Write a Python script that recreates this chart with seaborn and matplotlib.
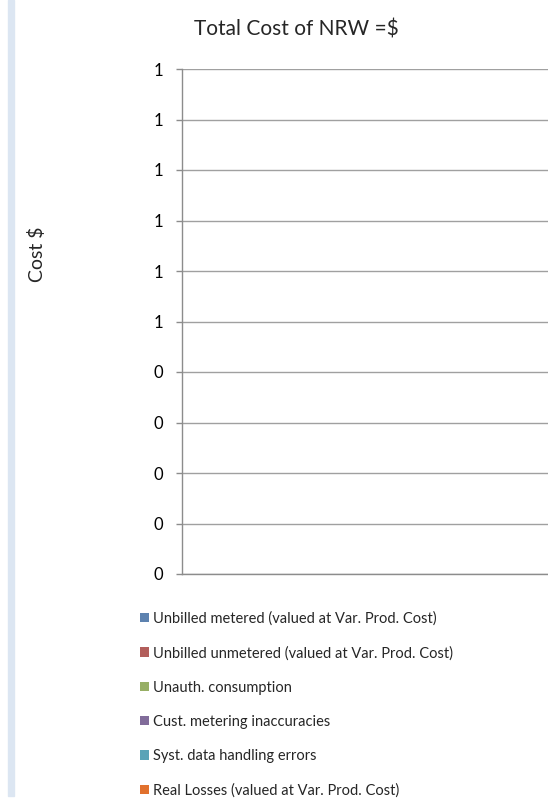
import numpy as np
import pandas as pd
import seaborn as sns
import matplotlib
matplotlib.use('Agg')
from matplotlib import pyplot as plt
from matplotlib.patches import Rectangle
from matplotlib.ticker import FuncFormatter

# components of the NRW cost, all empty (zero) in the reference
series = ['Unbilled metered (valued at Var. Prod. Cost)',
          'Unbilled unmetered (valued at Var. Prod. Cost)',
          'Unauth. consumption',
          'Cust. metering inaccuracies',
          'Syst. data handling errors',
          'Real Losses (valued at Var. Prod. Cost)']
costs = [0, 0, 0, 0, 0, 0]
colors = ['#4F81BD', '#C0504D', '#9BBB59', '#8064A2', '#4BACC6', '#FF6A10']
y_ticks = [0.0, 0.1, 0.2, 0.3, 0.4, 0.5, 0.6, 0.7, 0.8, 0.9, 1.0]

df = pd.DataFrame({'category': [''] * len(series), 'series': series, 'cost': costs})

sns.set_style('white')
plt.rcParams['font.family'] = ['Lato', 'DejaVu Sans']

W, H = 548, 798
fig = plt.figure(figsize=(W / 100, H / 100), dpi=100)
ax = fig.add_axes([182 / W, 1 - 574 / H, (W - 182) / W, (574 - 69) / H])

sns.barplot(data=df, x='category', y='cost', hue='series', palette=colors,
            linewidth=0, ax=ax, errorbar=None)

handles, labels = ax.get_legend_handles_labels()
if ax.get_legend() is not None:
    ax.get_legend().remove()

ax.set_ylim(0, 1)
ax.set_yticks(y_ticks)
ax.yaxis.set_major_formatter(FuncFormatter(lambda v, p: str(int(np.floor(v + 0.5 + 1e-9)))))
ax.set_xticks([])
ax.set_xlabel('')
ax.set_ylabel('')
ax.grid(axis='y', color='#a0a0a0', linewidth=1.0)
ax.set_axisbelow(True)
for s in ['top', 'right']:
    ax.spines[s].set_visible(False)
for s in ['left', 'bottom']:
    ax.spines[s].set_color('#8c8c8c')
    ax.spines[s].set_linewidth(1.0)
ax.tick_params(axis='y', left=True, length=4.5, width=1.0, color='#8c8c8c',
               labelsize=12, pad=9, labelcolor='black')

fig.text(296 / W, 1 - 35 / H, 'Total Cost of NRW =$', ha='center', va='baseline', fontsize=15)
fig.text(37 / W, 1 - 254 / H, 'Cost $', ha='center', va='center', rotation=90, fontsize=14)

fig.legend(handles, labels, loc='upper left', bbox_to_anchor=(133 / W, 1 - 604 / H),
           frameon=False, borderpad=0, fontsize=10.5, handlelength=0.62, handleheight=0.62,
           handletextpad=0.22, labelspacing=1.39)

# light blue stripe at the left edge
fig.patches.append(Rectangle((8 / W, 2 / H), 6 / W, 1 - 2 / H, transform=fig.transFigure,
                             color='#DCE6F2', zorder=0))

fig.savefig('out.png', dpi=100)
